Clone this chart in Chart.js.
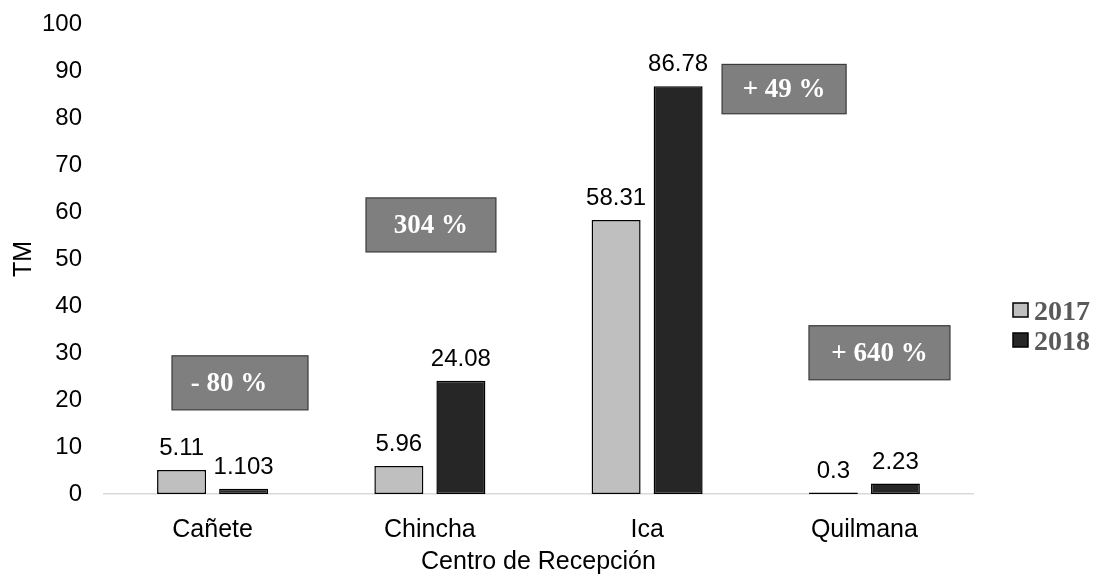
<!DOCTYPE html>
<html>
<head>
<meta charset="utf-8">
<script src="https://cdn.jsdelivr.net/npm/chart.js@4"></script>
<style>
  html, body { margin: 0; padding: 0; background: #fff; }
</style>
</head>
<body>
<canvas id="c" width="1097" height="578"></canvas>
<script>
// Received tonnage per reception centre, 2017 vs 2018
const categories = ['Cañete', 'Chincha', 'Ica', 'Quilmana'];
const seriesNames = ['2017', '2018'];
const values2017 = [5.11, 5.96, 58.31, 0.3];
const values2018 = [1.103, 24.08, 86.78, 2.23];
const changeLabels = ['- 80 %', '304 %', '+ 49 %', '+ 640 %'];
const yMin = 0, yMax = 100, yStep = 10;

// Where each change box sits, in axis units (category index, TM)
const changeBoxes = [
  { x0: -0.187, x1: 0.439, y0: 17.9, y1: 29.4, tx: 0.075 },
  { x0: 0.706, x1: 1.304, y0: 51.5, y1: 63.0 },
  { x0: 2.345, x1: 2.916, y0: 80.9, y1: 91.4 },
  { x0: 2.745, x1: 3.394, y0: 24.3, y1: 35.8 }
];

const SANS = '"Liberation Sans", Arial, sans-serif';
const SERIF = '"Liberation Serif", "Times New Roman", serif';

const valueLabels = {
  id: 'valueLabels',
  afterDatasetsDraw(chart) {
    const ctx = chart.ctx;
    ctx.save();
    ctx.font = '24px ' + SANS;
    ctx.fillStyle = '#000';
    ctx.textAlign = 'center';
    ctx.textBaseline = 'alphabetic';
    chart.data.datasets.forEach((ds, di) => {
      chart.getDatasetMeta(di).data.forEach((el, i) => {
        ctx.fillText(String(ds.data[i]), el.x, el.y - 15);
      });
    });
    ctx.restore();
  }
};

const changeNotes = {
  id: 'changeNotes',
  afterDatasetsDraw(chart) {
    const ctx = chart.ctx;
    const xs = chart.scales.x, ys = chart.scales.y;
    ctx.save();
    changeBoxes.forEach((b, i) => {
      const left = xs.getPixelForValue(b.x0), right = xs.getPixelForValue(b.x1);
      const top = ys.getPixelForValue(b.y1), bottom = ys.getPixelForValue(b.y0);
      ctx.fillStyle = '#7f7f7f';
      ctx.fillRect(left, top, right - left, bottom - top);
      ctx.strokeStyle = '#3a3a3a';
      ctx.lineWidth = 1.2;
      ctx.strokeRect(left, top, right - left, bottom - top);
      const tx = b.tx !== undefined ? xs.getPixelForValue(b.tx) : (left + right) / 2;
      ctx.fillStyle = '#fff';
      ctx.font = 'bold 27px ' + SERIF;
      ctx.textAlign = 'center';
      ctx.textBaseline = 'middle';
      ctx.fillText(changeLabels[i], tx, (top + bottom) / 2 + 1);
    });
    ctx.restore();
  }
};

const sideLegend = {
  id: 'sideLegend',
  afterDraw(chart) {
    const ctx = chart.ctx;
    ctx.save();
    chart.data.datasets.forEach((ds, i) => {
      const y = 303 + i * 30;
      ctx.fillStyle = ds.backgroundColor;
      ctx.fillRect(1013, y, 15, 14);
      ctx.strokeStyle = '#000';
      ctx.lineWidth = 1.5;
      ctx.strokeRect(1013, y, 15, 14);
      ctx.fillStyle = '#595959';
      ctx.font = 'bold 28px ' + SERIF;
      ctx.textAlign = 'left';
      ctx.textBaseline = 'alphabetic';
      ctx.fillText(ds.label, 1034, y + 17);
    });
    ctx.restore();
  }
};

new Chart(document.getElementById('c'), {
  type: 'bar',
  data: {
    labels: categories,
    datasets: [
      { label: seriesNames[0], data: values2017, backgroundColor: '#bfbfbf',
        borderColor: '#000', borderWidth: 1.5, borderSkipped: false,
        categoryPercentage: 0.571, barPercentage: 0.79 },
      { label: seriesNames[1], data: values2018, backgroundColor: '#262626',
        borderColor: '#000', borderWidth: 1.5, borderSkipped: false,
        categoryPercentage: 0.571, barPercentage: 0.79 }
    ]
  },
  options: {
    responsive: false,
    animation: false,
    devicePixelRatio: 1,
    layout: { padding: { left: 5, top: 24, right: 124, bottom: 0 } },
    plugins: {
      legend: { display: false },
      tooltip: { enabled: false }
    },
    scales: {
      x: {
        grid: { display: false, drawTicks: false },
        border: { display: true, color: '#d9d9d9', width: 1.5 },
        ticks: { font: { family: SANS, size: 25 }, color: '#000', padding: 21 },
        title: { display: true, text: 'Centro de Recepción', color: '#000',
                 font: { family: SANS, size: 25 }, padding: { top: 0, bottom: 1 } },
        afterFit(s) { s.height = 84; }
      },
      y: {
        min: yMin, max: yMax,
        grid: { display: false, drawTicks: false },
        border: { display: false },
        ticks: { stepSize: yStep, font: { family: SANS, size: 24 }, color: '#000', padding: 22 },
        title: { display: true, text: 'TM', color: '#000',
                 font: { family: SANS, size: 25 }, padding: { top: 4, bottom: 0 } },
        afterFit(s) { s.width = 99; s.paddingTop = 0; s.paddingBottom = 0; }
      }
    }
  },
  plugins: [changeNotes, valueLabels, sideLegend]
});
</script>
</body>
</html>
